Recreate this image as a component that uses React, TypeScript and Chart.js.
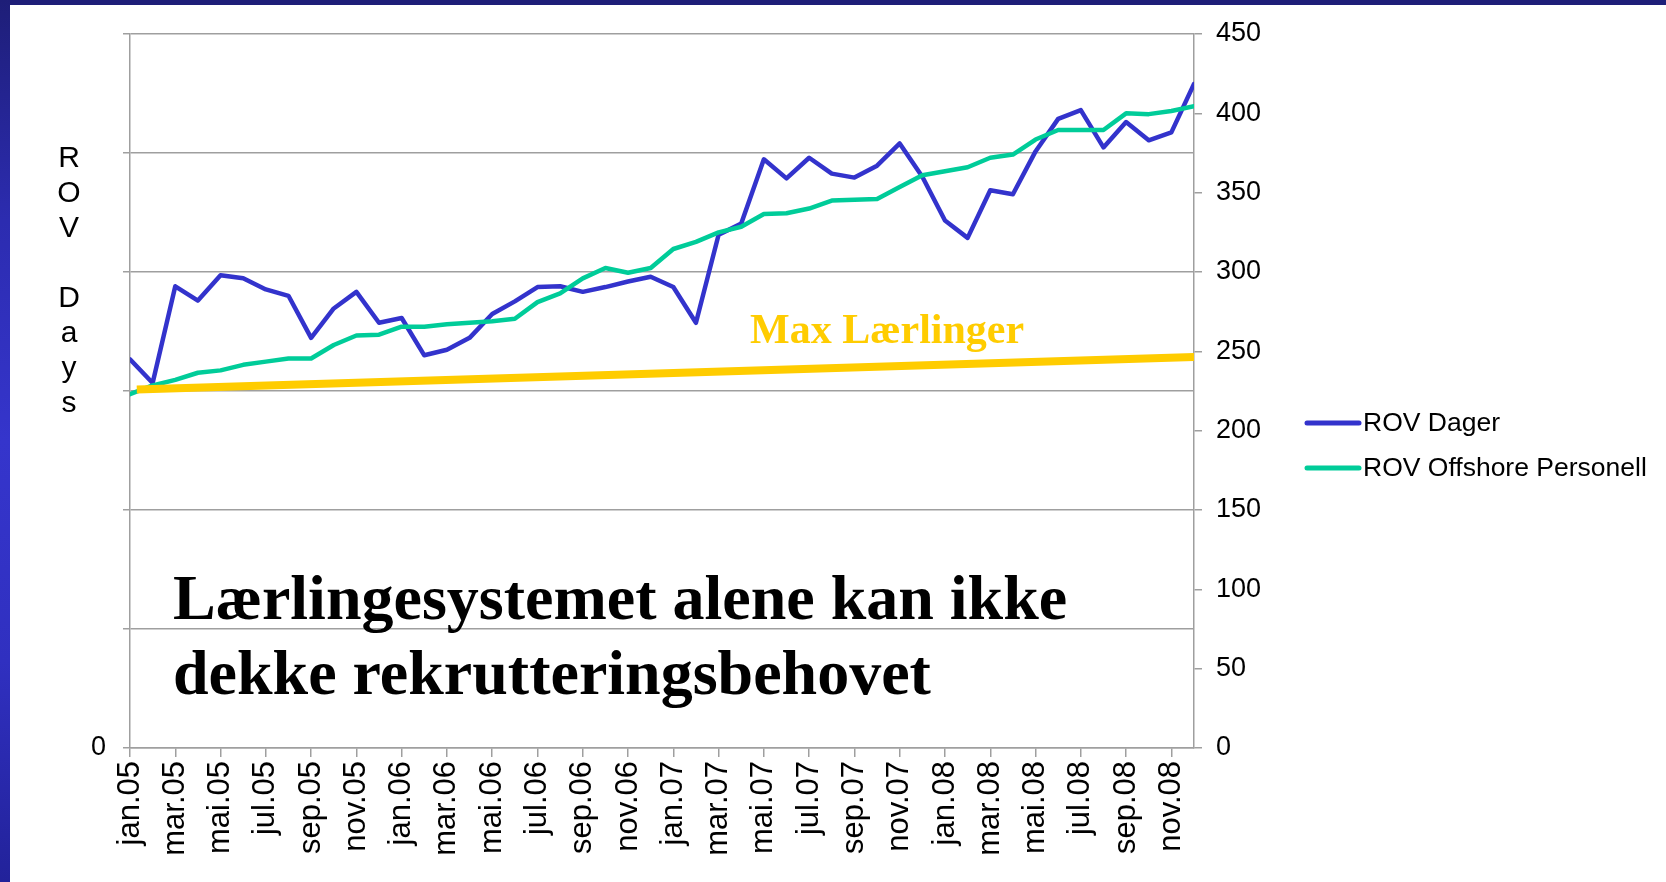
import React, { useEffect, useRef } from 'react';
import { Chart, registerables } from 'chart.js';

Chart.register(...registerables);

// ---------- data ----------
const months = [
  'jan.05', 'feb.05', 'mar.05', 'apr.05', 'mai.05', 'jun.05', 'jul.05', 'aug.05', 'sep.05', 'okt.05', 'nov.05', 'des.05',
  'jan.06', 'feb.06', 'mar.06', 'apr.06', 'mai.06', 'jun.06', 'jul.06', 'aug.06', 'sep.06', 'okt.06', 'nov.06', 'des.06',
  'jan.07', 'feb.07', 'mar.07', 'apr.07', 'mai.07', 'jun.07', 'jul.07', 'aug.07', 'sep.07', 'okt.07', 'nov.07', 'des.07',
  'jan.08', 'feb.08', 'mar.08', 'apr.08', 'mai.08', 'jun.08', 'jul.08', 'aug.08', 'sep.08', 'okt.08', 'nov.08', 'des.08',
];

const rovDager = [
  245, 230, 291, 282, 298, 296, 289, 285, 258.5, 277, 287.5, 268,
  271, 247.5, 251, 258.5, 273.5, 281.5, 290.5, 291, 287.5, 290.5, 294, 297,
  290.5, 268, 323.5, 330.5, 371, 359, 372, 362, 359.5, 367, 381, 360,
  332.5, 321.5, 351.5, 349, 376, 396.5, 402, 378.5, 394.5, 383, 388, 418.5,
];

const rovOffshorePersonell = [
  223, 228.5, 232, 236.5, 238, 241.5, 243.5, 245.5, 245.5, 254, 260, 260.5,
  265.5, 265.5, 267, 268, 269, 270.5, 281, 286.5, 296, 302.5, 299.5, 302.5,
  314.5, 319, 325, 328.5, 336.5, 337, 340, 345, 345.5, 346, 353.5, 361,
  363.5, 366, 372, 374, 383.5, 389.5, 389.5, 389.5, 400, 399.5, 401.5, 404.5,
];

// "Max Lærlinger" line (start / end)
const maxLaerlingerX = [0.3, 47];
const maxLaerlingerY = [226, 246.5];

const labelledMonthIdx = months.map((_, i) => i).filter((i) => i % 2 === 0);
const leftAxisTicks = [0, 1, 2, 3, 4, 5, 6];

const legendOrder = ['ROV Dager', 'ROV Offshore Personell'];
const yAxisLabel = ['R', 'O', 'V', '', 'D', 'a', 'y', 's'];
const bigTextLines = ['Lærlingesystemet alene kan ikke', 'dekke rekrutteringsbehovet'];
const maxLabel = 'Max Lærlinger';

// ---------- styles ----------
const SANS = "'Liberation Sans', Arial, sans-serif";
const SERIF = "'Liberation Serif', 'Times New Roman', serif";
const GRID = '#9f9f9f';
const BLUE = '#3333cc';
const GREEN = '#00cc99';
const GOLD = '#ffcc00';

const overlayPlugin = {
  id: 'overlayTexts',
  afterDraw(chart: any) {
    const ctx = chart.ctx as CanvasRenderingContext2D;
    ctx.save();

    // vertical stacked axis title
    ctx.fillStyle = '#000';
    ctx.font = `30px ${SANS}`;
    ctx.textAlign = 'center';
    ctx.textBaseline = 'alphabetic';
    yAxisLabel.forEach((l, k) => {
      if (l) ctx.fillText(l, 69, 166.5 + k * 35);
    });

    // Max Lærlinger label
    ctx.fillStyle = GOLD;
    ctx.font = `bold 42px ${SERIF}`;
    ctx.textAlign = 'left';
    ctx.fillText(maxLabel, 750, 343);

    // big statement
    ctx.fillStyle = '#000';
    ctx.font = `bold 64px ${SERIF}`;
    bigTextLines.forEach((t, k) => ctx.fillText(t, 173, 619 + k * 75));

    // legend
    legendOrder.forEach((name, k) => {
      const d = chart.data.datasets.find((ds: any) => ds.label === name);
      if (!d) return;
      const y = 423 + k * 45;
      ctx.strokeStyle = d.borderColor;
      ctx.lineWidth = 5;
      ctx.lineCap = 'round';
      ctx.beginPath();
      ctx.moveTo(1307, y);
      ctx.lineTo(1359, y);
      ctx.stroke();
      ctx.fillStyle = '#000';
      ctx.font = `26.5px ${SANS}`;
      ctx.textBaseline = 'middle';
      ctx.fillText(d.label, 1363, y + 1);
      ctx.textBaseline = 'alphabetic';
    });

    ctx.restore();
  },
};

export default function App() {
  const ref = useRef<HTMLCanvasElement>(null);

  useEffect(() => {
    document.body.style.margin = '0';
    const canvas = ref.current;
    if (!canvas) return;

    const chart = new Chart(canvas, {
      type: 'line',
      data: {
        datasets: [
          {
            label: 'Max Lærlinger',
            data: maxLaerlingerX.map((x, i) => ({ x, y: maxLaerlingerY[i] })),
            borderColor: GOLD,
            backgroundColor: GOLD,
            borderWidth: 8,
            borderCapStyle: 'butt',
            pointRadius: 0,
            yAxisID: 'y2',
            order: 0,
          } as any,
          {
            label: 'ROV Offshore Personell',
            data: rovOffshorePersonell.map((y, i) => ({ x: i, y })),
            borderColor: GREEN,
            backgroundColor: GREEN,
            borderWidth: 4.5,
            borderJoinStyle: 'round',
            borderCapStyle: 'round',
            pointRadius: 0,
            yAxisID: 'y2',
            order: 1,
          } as any,
          {
            label: 'ROV Dager',
            data: rovDager.map((y, i) => ({ x: i, y })),
            borderColor: BLUE,
            backgroundColor: BLUE,
            borderWidth: 4.5,
            borderJoinStyle: 'round',
            borderCapStyle: 'round',
            pointRadius: 0,
            yAxisID: 'y2',
            order: 2,
          } as any,
        ],
      },
      options: {
        animation: false,
        responsive: false,
        layout: { padding: { top: 34, left: 0, right: 0, bottom: 0 } },
        plugins: {
          legend: { display: false },
          tooltip: { enabled: false },
        },
        elements: { line: { tension: 0 }, point: { radius: 0 } },
        scales: {
          x: {
            type: 'linear',
            min: 0,
            max: months.length - 1,
            afterBuildTicks: (axis: any) => {
              axis.ticks = labelledMonthIdx.map((v) => ({ value: v }));
            },
            afterFit: (axis: any) => {
              axis.height = 134;
            },
            grid: { drawOnChartArea: false, color: GRID, lineWidth: 1.5, tickLength: 9 },
            border: { display: true, color: GRID, width: 1.5 },
            ticks: {
              autoSkip: false,
              minRotation: 90,
              maxRotation: 90,
              padding: 4,
              color: '#000',
              font: { family: SANS, size: 31 },
              callback: (v: any) => months[v] ?? '',
            },
          },
          y: {
            type: 'linear',
            position: 'left',
            min: 0,
            max: 6,
            afterBuildTicks: (axis: any) => {
              axis.ticks = leftAxisTicks.map((v) => ({ value: v }));
            },
            afterFit: (axis: any) => {
              axis.width = 130;
            },
            grid: { color: GRID, lineWidth: 1.5, tickLength: 7 },
            border: { display: true, color: GRID, width: 1.5 },
            ticks: {
              padding: 17,
              color: '#000',
              font: { family: SANS, size: 27 },
              callback: (v: any) => (v === 0 ? '0' : ''),
            },
          },
          y2: {
            type: 'linear',
            position: 'right',
            min: 0,
            max: 450,
            afterFit: (axis: any) => {
              axis.width = 472;
            },
            grid: { drawOnChartArea: false, color: GRID, lineWidth: 1.5, tickLength: 8 },
            border: { display: true, color: GRID, width: 1.5 },
            ticks: {
              stepSize: 50,
              padding: 14,
              color: '#000',
              font: { family: SANS, size: 27 },
            },
          },
        },
      } as any,
      plugins: [overlayPlugin],
    });

    return () => chart.destroy();
  }, []);

  return (
    <div
      style={{
        position: 'absolute',
        left: 0,
        top: 0,
        width: 1666,
        height: 882,
        background: '#ffffff',
        overflow: 'hidden',
      }}
    >
      <canvas
        ref={ref}
        width={1666}
        height={882}
        style={{ position: 'absolute', left: 0, top: 0, width: 1666, height: 882 }}
      />
      <div style={{ position: 'absolute', left: 0, top: 0, width: 1666, height: 5, background: '#1e1e78' }} />
      <div
        style={{
          position: 'absolute',
          left: 0,
          top: 0,
          width: 10,
          height: 882,
          background: 'linear-gradient(to bottom, #1e1e78 0%, #2c2cb0 25%, #3535cc 50%, #3030c0 75%, #22229a 100%)',
        }}
      />
    </div>
  );
}
